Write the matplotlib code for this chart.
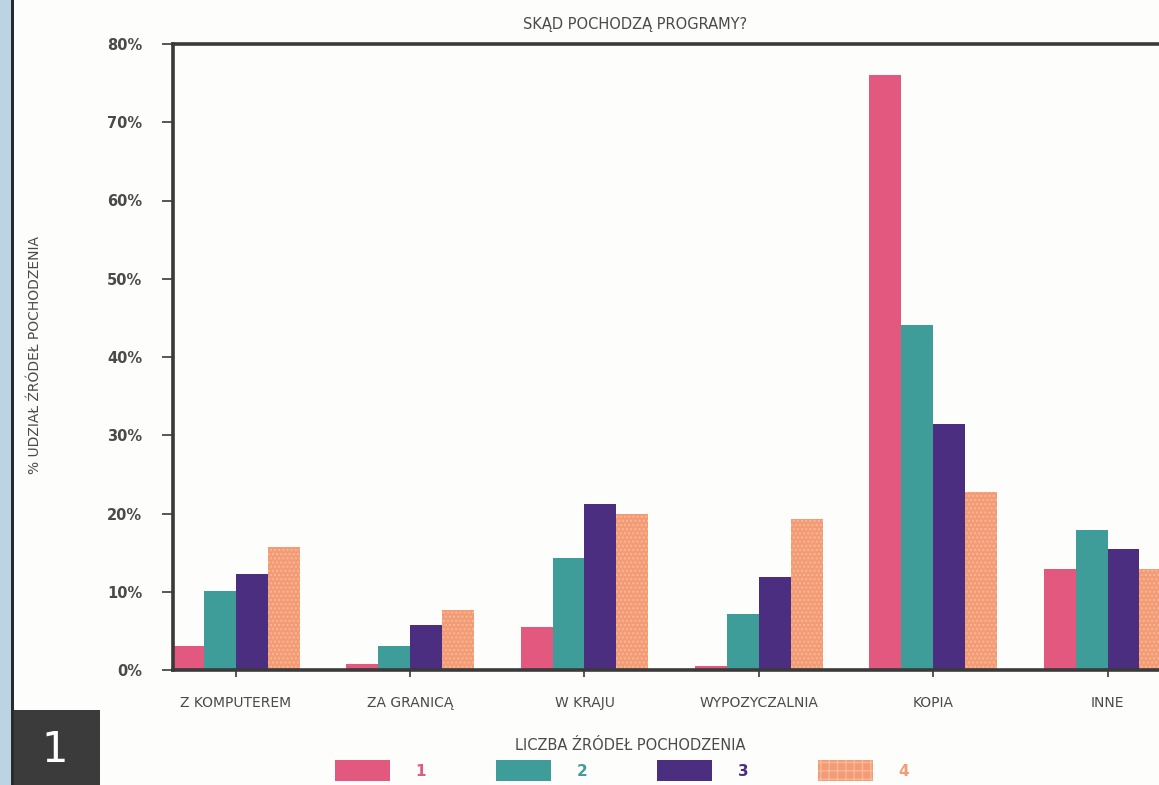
import matplotlib
matplotlib.use("Agg")
import matplotlib.pyplot as plt
from matplotlib.patches import Rectangle
import numpy as np

plt.rcParams['font.family'] = ['DejaVu Sans']

# share of program sources (%) by number of sources used
categories = ["Z KOMPUTEREM", "ZA GRANICĄ", "W KRAJU", "WYPOZYCZALNIA", "KOPIA", "INNE"]
series_labels = ["1", "2", "3", "4"]
src_1 = [3.1, 0.8, 5.5, 0.5, 76.0, 12.9]
src_2 = [10.1, 3.1, 14.3, 7.2, 44.1, 17.9]
src_3 = [12.3, 5.7, 21.2, 11.9, 31.4, 15.5]
src_4 = [15.7, 7.7, 20.0, 19.3, 22.8, 12.9]
y_ticks = [0, 10, 20, 30, 40, 50, 60, 70, 80]

colors = ['#e3587f', '#3f9d99', '#4c2e80', '#f39b74']
text_col = '#4a4a4a'

W, H = 1159, 785
fig = plt.figure(figsize=(W / 100, H / 100), dpi=100)
fig.patch.set_facecolor('#fdfdfb')

# axes run past the right edge of the page
ax = fig.add_axes([173 / W, (H - 670) / H, 1074 / W, 626 / H])
ax.set_facecolor('#fdfdfb')

x = np.arange(len(categories))
bw = 0.183
for i, (vals, col) in enumerate(zip([src_1, src_2, src_3, src_4], colors)):
    hatch = '....' if i == 3 else None
    bars = ax.bar(x + (i - 1.5) * bw, vals, width=bw, color=col,
                  edgecolor='#f7b898' if i == 3 else col, linewidth=0,
                  hatch=hatch, zorder=2)

ax.set_xlim(-0.36, 5.8)
ax.set_ylim(0, 80)

for side in ['left', 'top', 'bottom']:
    ax.spines[side].set_linewidth(2.6)
    ax.spines[side].set_color('#3a3a3a')
ax.spines['right'].set_visible(False)

ax.set_yticks(y_ticks)
ax.set_yticklabels([f"{t}%" for t in y_ticks], fontsize=10.5,
                   fontweight='bold', color=text_col)
ax.tick_params(axis='y', direction='out', length=8, width=1.2,
               color='#3a3a3a', pad=14)
ax.set_xticks(x)
ax.set_xticklabels(categories, fontsize=10, color=text_col)
ax.tick_params(axis='x', direction='out', length=5, width=1.2,
               color='#3a3a3a', pad=14)

fig.text(635 / W, 1 - 25 / H, "SKĄD POCHODZĄ PROGRAMY?", ha='center',
         va='center', fontsize=10.5, color=text_col)
fig.text(35 / W, 1 - 355 / H, "% UDZIAŁ ŹRÓDEŁ POCHODZENIA", ha='center',
         va='center', rotation=90, fontsize=10, color=text_col)

# legend drawn below the plot
fig.text(630 / W, 1 - 746 / H, "LICZBA ŹRÓDEŁ POCHODZENIA", ha='center',
         va='center', fontsize=10.5, color=text_col)
for i, (lab, col) in enumerate(zip(series_labels, colors)):
    x0 = 335 + i * 161
    fig.add_artist(Rectangle((x0 / W, 1 - 781 / H), 55 / W, 21 / H,
                             transform=fig.transFigure, facecolor=col,
                             edgecolor='#f7b898' if i == 3 else col,
                             linewidth=0, hatch='++' if i == 3 else None))
    fig.text((x0 + 86) / W, 1 - 771 / H, lab, ha='center', va='center',
             fontsize=11, fontweight='bold', color=col)

# page margin: blue strip, rule and section number box
fig.add_artist(Rectangle((0, 0), 11 / W, 1, transform=fig.transFigure,
                         facecolor='#bcd3e4', linewidth=0))
fig.add_artist(Rectangle((11 / W, 0), 3 / W, 1, transform=fig.transFigure,
                         facecolor='#2b2b2b', linewidth=0))
fig.add_artist(Rectangle((14 / W, 0), 86 / W, 75 / H, transform=fig.transFigure,
                         facecolor='#3b3b3b', linewidth=0))
fig.text(55 / W, 1 - 750 / H, "1", ha='center', va='center', fontsize=30,
         color='white')

fig.savefig("out.png", dpi=100, facecolor=fig.get_facecolor())
